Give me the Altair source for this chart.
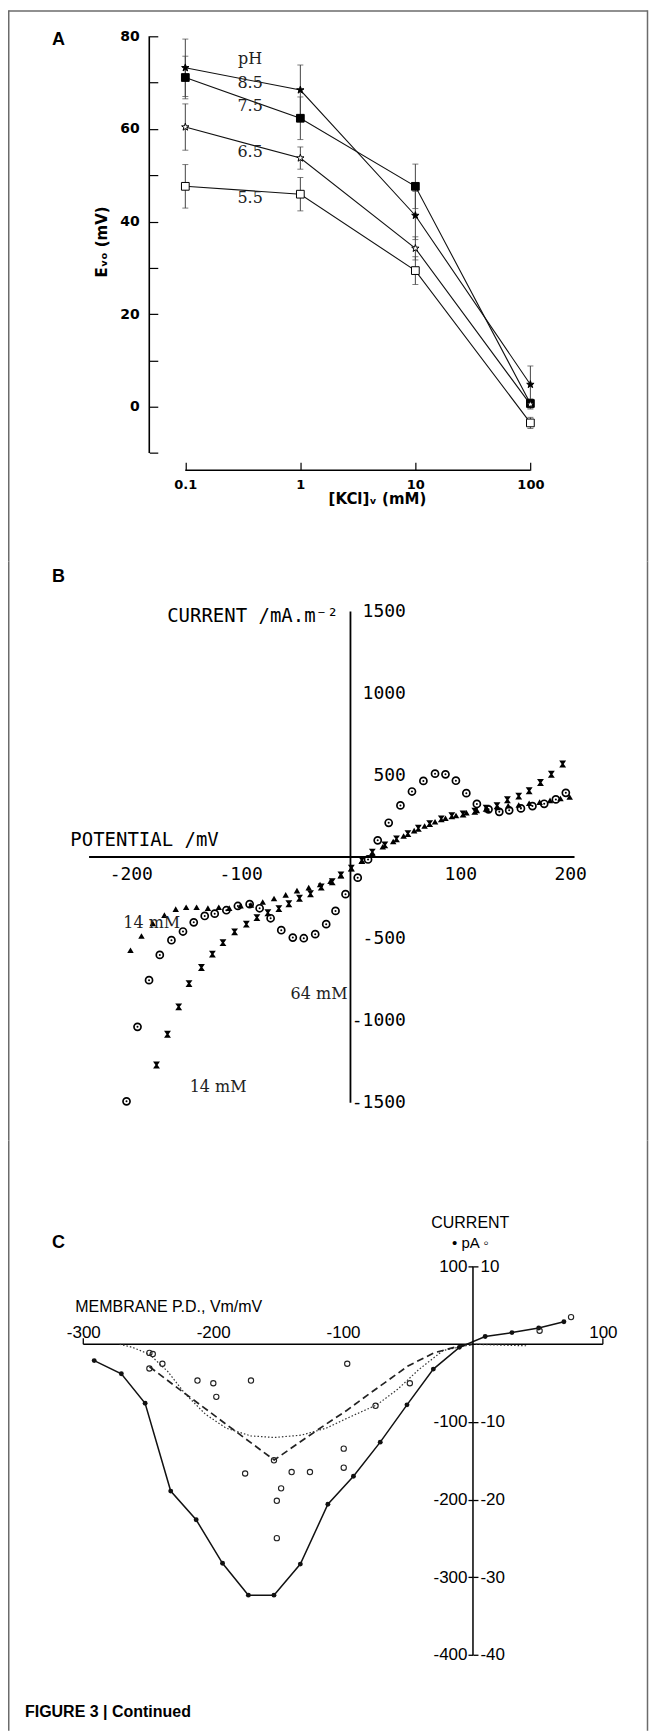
import altair as alt
import pandas as pd

# ================= Panel A : E_vo versus [KCl]_v =================
kcl_mM = [0.1, 1, 10, 100]
ph_names = ["8.5", "7.5", "6.5", "5.5"]
evo_ph85 = [73.2, 68.4, 41.3, 4.8]
evo_ph75 = [71.1, 62.3, 47.6, 0.7]
evo_ph65 = [60.4, 53.7, 34.2, 0.5]
evo_ph55 = [47.6, 45.9, 29.4, -3.5]
sd_ph85 = [6.2, 5.4, 5.2, 4.0]
sd_ph75 = [4.6, 4.6, 4.8, 1.0]
sd_ph65 = [5.0, 2.4, 2.5, 1.0]
sd_ph55 = [4.7, 3.6, 3.0, 1.2]
a_note_text = ["pH", "8.5", "7.5", "6.5", "5.5"]
a_note_kcl = [0.366, 0.366, 0.366, 0.366, 0.366]
a_note_evo = [75, 70, 65, 55, 45]
a_x_ticks = [0.1, 1, 10, 100]
a_y_ticks = [-10, 0, 10, 20, 30, 40, 50, 60, 70, 80]

# ================= Panel B : current versus potential =================
tri_mV = [-200.3, -190.3, -180, -169.4, -159.1, -149.6, -140.1, -129.8, -119.9, -110.4,
          -100.1, -90.6, -79.9, -69.6, -59, -48.7, -38, -27.7, -18.2, -8.7,
          0.8, 10.4, 19.9, 29.4, 38.9, 48.4, 58, 67.5, 77, 86.5,
          96.1, 105.6, 115.1, 124.6, 134.1, 143.6, 153.2, 162.7, 172.2, 181.7,
          191.2, 199.6]
tri_cur = [-569, -482, -405, -355, -318, -307, -307, -312, -307, -312,
           -297, -292, -275, -253, -231, -205, -187, -168, -148, -112,
           -70, -25, 19, 63, 95, 128, 161, 189, 215, 237,
           254, 270, 285, 291, 302, 313, 318, 328, 335, 346,
           357, 367]
circ_mV = [-203.9, -193.9, -183.4, -173.6, -163, -152.5, -142.7, -132.7, -123.6, -113,
           -102.5, -91.8, -82.7, -72.7, -63, -52.5, -42.5, -32.1, -22.1, -13.6,
           -4.5, 6.6, 16, 24.8, 34.8, 45.5, 56, 66.4, 77, 86.5,
           96, 105.5, 115.1, 125.7, 135.5, 144.5, 155.2, 165.7, 176.4, 187,
           196.1]
circ_cur = [-1492, -1037, -752, -598, -508, -455, -399, -360, -346, -325,
            -299, -288, -313, -374, -447, -492, -496, -471, -410, -329,
            -227, -126, -15, 102, 209, 315, 400, 465, 509, 505,
            466, 390, 324, 291, 276, 285, 297, 311, 325, 352,
            392]
hour_mV = [-176.6, -166.6, -156.4, -147, -135.7, -125.7, -116.1, -105.5, -94.8, -85.2,
           -75.2, -65.2, -56.1, -46.4, -36.4, -26.6, -16.6, -8.7, 0.8, 10.4,
           19.9, 31.3, 41.9, 52.3, 61.8, 72.1, 82.7, 92.3, 102.5, 113.2,
           123.5, 133.4, 142.9, 153.2, 162.7, 173, 182.9, 193.2]
hour_cur = [-1270, -1082, -915, -773, -675, -593, -523, -457, -410, -370,
            -340, -315, -285, -252, -224, -183, -151, -110, -68, -20,
            30, 74, 111, 143, 176, 204, 233, 252, 263, 280,
            298, 313, 350, 372, 405, 455, 505, 568]
b_note_text = ["14 mM", "64 mM", "14 mM"]
b_note_mV = [-181, -28.6, -120.5]
b_note_cur = [-405, -835, -1407]
b_x_ticks = [-200, -100, 100, 200]
b_y_ticks = [1500, 1000, 500, -500, -1000, -1500]

# ================= Panel C : current versus membrane P.D. =================
c_fill_mV = [-291.6, -270.7, -252.4, -232.7, -213.1, -192.8, -172.9, -153.2, -132.9, -111.7,
             -92, -71.4, -50.8, -30.5, -10.5, 9.4, 30, 50.6, 70]
c_fill_pA = [-21, -38, -76, -189, -226, -282, -323, -323, -283, -206,
             -170, -126, -78, -32, -4, 10, 15, 21, 29]
c_open_mV = [-249.1, -246.5, -239.1, -249.1, -212.1, -199.9, -170.9, -197.6, -96.8, -48.6,
             -75, -99.5, -99.5, -175.4, -153.2, -139.6, -125.5, -147.7, -151, -151,
             51.3, 75.5]
c_open_pA = [-1.11, -1.26, -2.51, -3.12, -4.67, -5.02, -4.67, -6.77, -2.51, -5.02,
             -7.92, -13.44, -15.89, -16.64, -14.94, -16.45, -16.45, -18.55, -20.15, -24.96,
             1.74, 3.5]
c_dash_mV = [-249, -230, -210, -190, -170, -153, -135, -115, -97, -80, -65, -50, -30, -12, 0]
c_dash_pA = [-2.9, -5.3, -7.8, -10.3, -12.8, -14.9, -12.8, -10.5, -8.5, -6.4, -4.6, -2.8, -1.1, -0.3, 0]
c_dot_mV = [-272, -262, -249, -235, -222, -206, -190, -171, -153, -132, -113, -94, -74, -58, -42, -23, 0, 20, 42]
c_dot_pA = [0, -0.4, -1.3, -3.5, -6.3, -9.0, -10.8, -11.8, -12.0, -11.7, -10.8, -9.3, -7.8, -5.8, -3.3, -0.8, 0, -0.1, -0.2]
c_x_ticks = [-300, -200, -100, 100]
c_y_ticks = [100, -100, -200, -300, -400]

# ================= layout =================
W = 641
HA, HB, HC = 552, 580, 591
INK = "black"
FRAME = "#6b6b6b"

STAR = ("M0,-1L0.2351,-0.3236L0.9511,-0.309L0.3804,0.1236L0.5878,0.809L0,0.4"
        "L-0.5878,0.809L-0.3804,0.1236L-0.9511,-0.309L-0.2351,-0.3236Z")
HOURGLASS = "M-1,-1L1,-1L0.3,0L1,1L-1,1L-0.3,0Z"


def note(text, px, py, **style):
    return alt.Chart(pd.DataFrame({"t": [text]})).mark_text(**style).encode(
        x=alt.value(px), y=alt.value(py), text="t:N")


def frame(h, top=False):
    d = pd.DataFrame({"k": [0]})
    out = [
        alt.Chart(d).mark_rule(color=FRAME, strokeWidth=1.5).encode(
            x=alt.value(0.75), y=alt.value(0), y2=alt.value(h)),
        alt.Chart(d).mark_rule(color=FRAME, strokeWidth=1.5).encode(
            x=alt.value(640.5), y=alt.value(0), y2=alt.value(h)),
    ]
    if top:
        out.append(alt.Chart(d).mark_rule(color=FRAME, strokeWidth=1.5).encode(
            x=alt.value(0.75), x2=alt.value(640.5), y=alt.value(0.75)))
    return out


# ---------------- Panel A ----------------
A_X01, A_DEC = 177.6, 115.2          # pixel of 0.1 mM, pixels per decade
A_Y0, A_PPU = 397.0, 4.6375          # pixel of 0 mV, pixels per mV
a_lo = -1 - A_X01 / A_DEC
xsA = alt.Scale(type="log", domain=[10 ** a_lo, 10 ** (a_lo + W / A_DEC)], nice=False)
ysA = alt.Scale(domain=[(A_Y0 - HA) / A_PPU, A_Y0 / A_PPU], nice=False, zero=False)
axA_x = alt.Axis(orient="bottom", offset=-(HA - 452.6), values=a_x_ticks, format="~g",
                 domain=False, grid=False, tickSize=8, tickWidth=1.2, tickColor=INK,
                 labelPadding=8, labelFont="DejaVu Sans", labelFontWeight="bold",
                 labelFontSize=13, labelColor=INK, labelOverlap=False, title=None)
axA_y = alt.Axis(orient="left", offset=-150, values=a_y_ticks,
                 labelExpr="datum.value % 20 == 0 ? datum.label : ''",
                 domain=False, grid=False, tickSize=8.5, tickWidth=1.2, tickColor=INK,
                 labelPadding=10, labelFont="DejaVu Sans", labelFontWeight="bold",
                 labelFontSize=14, labelColor=INK, labelOverlap=False, title=None)


def XA(f):
    return alt.X(f, type="quantitative", scale=xsA, axis=axA_x)


def YA(f):
    return alt.Y(f, type="quantitative", scale=ysA, axis=axA_y)


rows = []
for name, ys, sds in zip(ph_names, [evo_ph85, evo_ph75, evo_ph65, evo_ph55],
                         [sd_ph85, sd_ph75, sd_ph65, sd_ph55]):
    for k, y, s in zip(kcl_mM, ys, sds):
        rows.append({"ph": name, "x": k, "y": y, "lo": y - s, "hi": y + s})
dfA = pd.DataFrame(rows)
baseA = alt.Chart(dfA)

a_yline = alt.Chart(pd.DataFrame({"x": [10 ** (a_lo + 141.5 / A_DEC)], "y": [-10], "y2": [80]})
                    ).mark_rule(color=INK, strokeWidth=1.6).encode(x=XA("x"), y=YA("y"), y2="y2")
a_xline = alt.Chart(pd.DataFrame({"x": [0.1], "x2": [100], "y": [(A_Y0 - 460.6) / A_PPU]})
                    ).mark_rule(color=INK, strokeWidth=1.6).encode(x=XA("x"), x2="x2", y=YA("y"))
a_err = baseA.mark_rule(color="#444", strokeWidth=1).encode(x=XA("x"), y=YA("lo"), y2="hi")
a_cap_lo = baseA.mark_tick(orient="horizontal", size=6, thickness=1, color="#444").encode(x=XA("x"), y=YA("lo"))
a_cap_hi = baseA.mark_tick(orient="horizontal", size=6, thickness=1, color="#444").encode(x=XA("x"), y=YA("hi"))
a_lines = baseA.mark_line(color="#111", strokeWidth=1.1).encode(x=XA("x"), y=YA("y"), detail="ph:N")
a_pts = baseA.mark_point(filled=True, stroke=INK, strokeWidth=1, opacity=1).encode(
    x=XA("x"), y=YA("y"),
    shape=alt.Shape("ph:N", scale=alt.Scale(domain=ph_names, range=[STAR, "square", STAR, "square"]), legend=None),
    fill=alt.Fill("ph:N", scale=alt.Scale(domain=ph_names, range=["black", "black", "white", "white"]), legend=None),
    size=alt.Size("ph:N", scale=alt.Scale(domain=ph_names, range=[60, 60, 55, 60]), legend=None),
)
a_notes = alt.Chart(pd.DataFrame({"x": a_note_kcl, "y": a_note_evo, "t": a_note_text})).mark_text(
    font="DejaVu Serif", fontSize=16, color="#222", align="center", baseline="middle").encode(
    x=XA("x"), y=YA("y"), text="t:N")

panelA = alt.layer(
    *frame(HA, top=True), a_yline, a_xline, a_err, a_cap_lo, a_cap_hi, a_lines, a_pts, a_notes,
    note("A", 50.6, 29.5, font="Liberation Sans", fontWeight="bold", fontSize=18, align="center", baseline="middle"),
    note("E\u1d65\u2092 (mV)", 94, 232, font="DejaVu Sans", fontWeight="bold", fontSize=15, angle=270,
         align="center", baseline="middle"),
    note("[KCl]\u1d65 (mM)", 370, 489, font="DejaVu Sans", fontWeight="bold", fontSize=15,
         align="center", baseline="middle"),
).properties(width=W, height=HA)

# ---------------- Panel B ----------------
B_X0, B_PPX = 343.0, 1.1
B_Y0, B_PPY = 296.0, 0.164
xsB = alt.Scale(domain=[-B_X0 / B_PPX, (W - B_X0) / B_PPX], nice=False, zero=False)
ysB = alt.Scale(domain=[(B_Y0 - HB) / B_PPY, B_Y0 / B_PPY], nice=False, zero=False)
axB_x = alt.Axis(orient="bottom", offset=-(HB - B_Y0), values=b_x_ticks, ticks=False, tickSize=0,
                 domain=False, grid=False, labelPadding=9, labelFont="DejaVu Sans Mono",
                 labelFontSize=18, labelColor=INK, labelExpr="'' + datum.value",
                 labelOverlap=False, title=None)
axB_y = alt.Axis(orient="right", offset=B_X0 - W, values=b_y_ticks, ticks=False, tickSize=0,
                 domain=False, grid=False, labelAlign="right", labelBaseline="middle",
                 labelPadding=55, labelFont="DejaVu Sans Mono", labelFontSize=18,
                 labelColor=INK, labelExpr="'' + datum.value", labelOverlap=False, title=None)


def XB(f):
    return alt.X(f, type="quantitative", scale=xsB, axis=axB_x)


def YB(f):
    return alt.Y(f, type="quantitative", scale=ysB, axis=axB_y)


dfB_tri = pd.DataFrame({"x": tri_mV, "y": tri_cur})
dfB_circ = pd.DataFrame({"x": circ_mV, "y": circ_cur})
dfB_hour = pd.DataFrame({"x": hour_mV, "y": hour_cur})

b_yline = alt.Chart(pd.DataFrame({"x": [0], "y": [-1500], "y2": [1500]})).mark_rule(
    color=INK, strokeWidth=1.8).encode(x=XB("x"), y=YB("y"), y2="y2")
b_xline = alt.Chart(pd.DataFrame({"x": [-238], "x2": [204], "y": [0]})).mark_rule(
    color=INK, strokeWidth=2).encode(x=XB("x"), x2="x2", y=YB("y"))
b_tri = alt.Chart(dfB_tri).mark_point(shape="triangle-up", filled=True, color=INK, size=42, opacity=1).encode(
    x=XB("x"), y=YB("y"))
b_circ = alt.Chart(dfB_circ).mark_point(shape="circle", filled=False, color=INK, strokeWidth=1.7, size=50, opacity=1).encode(
    x=XB("x"), y=YB("y"))
b_circ_dot = alt.Chart(dfB_circ).mark_point(shape="circle", filled=True, color=INK, size=4, opacity=1).encode(
    x=XB("x"), y=YB("y"))
b_hour = alt.Chart(dfB_hour).mark_point(shape=HOURGLASS, filled=True, color=INK, size=48, opacity=1).encode(
    x=XB("x"), y=YB("y"))
b_notes = alt.Chart(pd.DataFrame({"x": b_note_mV, "y": b_note_cur, "t": b_note_text})).mark_text(
    font="DejaVu Serif", fontSize=16, color="#222", align="center", baseline="middle").encode(
    x=XB("x"), y=YB("y"), text="t:N")

panelB = alt.layer(
    *frame(HB), b_yline, b_xline, b_tri, b_circ, b_circ_dot, b_hour, b_notes,
    note("B", 50.6, 16, font="Liberation Sans", fontWeight="bold", fontSize=18, align="center", baseline="middle"),
    note("CURRENT /mA.m\u207b\u00b2", 331, 55, font="DejaVu Sans Mono", fontSize=19, align="right", baseline="middle"),
    note("POTENTIAL /mV", 62.4, 278.6, font="DejaVu Sans Mono", fontSize=19, align="left", baseline="middle"),
).properties(width=W, height=HB)

# ---------------- Panel C ----------------
C_X0, C_PPX = 465.7, 1.301
C_Y0, C_PPY = 204.0, 0.778
xsC = alt.Scale(domain=[-C_X0 / C_PPX, (W - C_X0) / C_PPX], nice=False, zero=False)
ysC = alt.Scale(domain=[(C_Y0 - HC) / C_PPY, C_Y0 / C_PPY], nice=False, zero=False)
axC_x = alt.Axis(orient="top", offset=-C_Y0, values=c_x_ticks, ticks=False, tickSize=0,
                 domain=False, grid=False, labelPadding=3, labelFont="Liberation Sans",
                 labelFontSize=17, labelColor=INK, labelExpr="'' + datum.value",
                 labelOverlap=False, title=None)
axC_yl = alt.Axis(orient="left", offset=-C_X0, values=c_y_ticks, tickSize=5, tickWidth=1.3,
                  tickColor=INK, domain=False, grid=False, labelPadding=1, labelBaseline="middle",
                  labelFont="Liberation Sans", labelFontSize=17, labelColor=INK,
                  labelExpr="'' + datum.value", labelOverlap=False, title=None)
axC_yr = alt.Axis(orient="right", offset=C_X0 - W, values=c_y_ticks, tickSize=5, tickWidth=1.3,
                  tickColor=INK, domain=False, grid=False, labelPadding=2, labelBaseline="middle",
                  labelFont="Liberation Sans", labelFontSize=17, labelColor=INK,
                  labelExpr="'' + (datum.value / 10)", labelOverlap=False, title=None)


def XC(f):
    return alt.X(f, type="quantitative", scale=xsC, axis=axC_x)


def YC(f, ax=axC_yl):
    return alt.Y(f, type="quantitative", scale=ysC, axis=ax)


dfC_fill = pd.DataFrame({"x": c_fill_mV, "y": c_fill_pA})
dfC_open = pd.DataFrame({"x": c_open_mV, "r": c_open_pA})
dfC_dash = pd.DataFrame({"x": c_dash_mV, "r": c_dash_pA})
dfC_dot = pd.DataFrame({"x": c_dot_mV, "r": c_dot_pA})

cap_pA = 6 / C_PPY
c_xline = alt.Chart(pd.DataFrame({"x": [-300], "x2": [100], "y": [0]})).mark_rule(
    color=INK, strokeWidth=1.5).encode(x=XC("x"), x2="x2", y=YC("y"))
c_caps = alt.Chart(pd.DataFrame({"x": [-300, 100], "y": [0, 0], "y2": [cap_pA, cap_pA]})).mark_rule(
    color=INK, strokeWidth=1.3).encode(x=XC("x"), y=YC("y"), y2="y2")
c_dot = alt.Chart(dfC_dot).transform_calculate(y="datum.r * 10").mark_line(
    color="#333", strokeWidth=1.2, strokeDash=[1.5, 2]).encode(x=XC("x"), y=YC("y"))
c_dash = alt.Chart(dfC_dash).transform_calculate(y="datum.r * 10").mark_line(
    color="#222", strokeWidth=1.7, strokeDash=[7, 4]).encode(x=XC("x"), y=YC("y"))
c_line = alt.Chart(dfC_fill).mark_line(color="#111", strokeWidth=1.5).encode(x=XC("x"), y=YC("y"))
c_pts = alt.Chart(dfC_fill).mark_point(shape="circle", filled=True, color="#111", size=24, opacity=1).encode(
    x=XC("x"), y=YC("y"))
c_open = alt.Chart(dfC_open).transform_calculate(y="datum.r * 10").mark_point(
    shape="circle", filled=False, color="#222", strokeWidth=1.1, size=28, opacity=1).encode(
    x=XC("x"), y=YC("y"))

innerC = alt.layer(
    *frame(HC), c_xline, c_caps, c_dot, c_dash, c_line, c_pts, c_open,
    note("C", 50.6, 102.8, font="Liberation Sans", fontWeight="bold", fontSize=18, align="center", baseline="middle"),
    note("MEMBRANE P.D., Vm/mV", 67.4, 167, font="Liberation Sans", fontSize=16, align="left", baseline="middle"),
    note("CURRENT", 463, 83, font="Liberation Sans", fontSize=16, align="center", baseline="middle"),
    note("\u2022 pA \u25e6", 463, 103, font="Liberation Sans", fontSize=15, align="center", baseline="middle"),
    note("FIGURE 3 | Continued", 17, 572, font="Liberation Sans", fontWeight="bold", fontSize=16,
         align="left", baseline="middle"),
)
c_yline = alt.Chart(pd.DataFrame({"x": [0], "y": [-400], "y2": [100]})).mark_rule(
    color=INK, strokeWidth=1.5).encode(x=XC("x"), y=YC("y", axC_yr), y2="y2")

panelC = alt.layer(innerC, c_yline).resolve_axis(y="independent").properties(width=W, height=HC)

chart = alt.vconcat(panelA, panelB, panelC, spacing=0, bounds="flush").properties(
    padding=0, background="white"
).configure_view(stroke=None)

chart.save("out.html", embed_options={"renderer": "svg", "actions": False})
